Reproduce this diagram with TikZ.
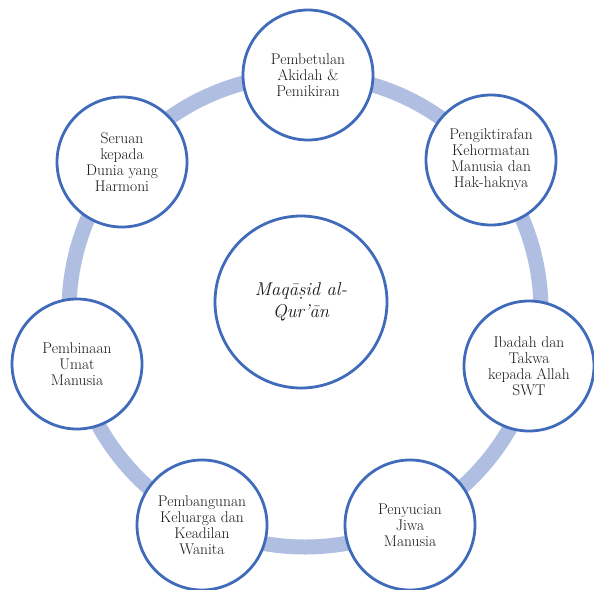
\documentclass[tikz,border=0pt]{standalone}
\usepackage{fontspec}
\begin{document}
\definecolor{ringcol}{RGB}{176,190,226}
\definecolor{edgecol}{RGB}{64,106,186}
\begin{tikzpicture}[x=1pt,y=-1pt,
  ringline/.style={draw=ringcol,line width=15pt},
  outer/.style={circle,draw=edgecol,line width=2.8pt,fill=white,minimum size=130pt,inner sep=0pt,align=center,text=black!90,font=\fontsize{15.5}{16}\selectfont},
  inner/.style={circle,draw=edgecol,line width=2.8pt,fill=white,minimum size=172pt,inner sep=0pt,align=center,text=black!90,font=\fontsize{18.5}{22}\selectfont\itshape}]
\useasboundingbox (0,0) rectangle (594,589);
\coordinate (ringc) at (305,311);
\draw[ringline] (ringc) circle[radius=236pt];
\node[inner] (c) at (301,302) {Maqāṣid al-\\Qur'ān};
\node[outer] (n1) at (308,75) {Pembetulan\\Akidah \&\\Pemikiran};
\node[outer] (n2) at (491,160) {Pengiktirafan\\Kehormatan\\Manusia dan\\Hak-haknya};
\node[outer] (n3) at (529,366) {Ibadah dan\\Takwa\\kepada Allah\\SWT};
\node[outer] (n4) at (410,525) {Penyucian\\Jiwa\\Manusia};
\node[outer] (n5) at (202,525) {Pembangunan\\Keluarga dan\\Keadilan\\Wanita};
\node[outer] (n6) at (77,364) {Pembinaan\\Umat\\Manusia};
\node[outer] (n7) at (122,162) {Seruan\\kepada\\Dunia yang\\Harmoni};
\end{tikzpicture}
\end{document}
